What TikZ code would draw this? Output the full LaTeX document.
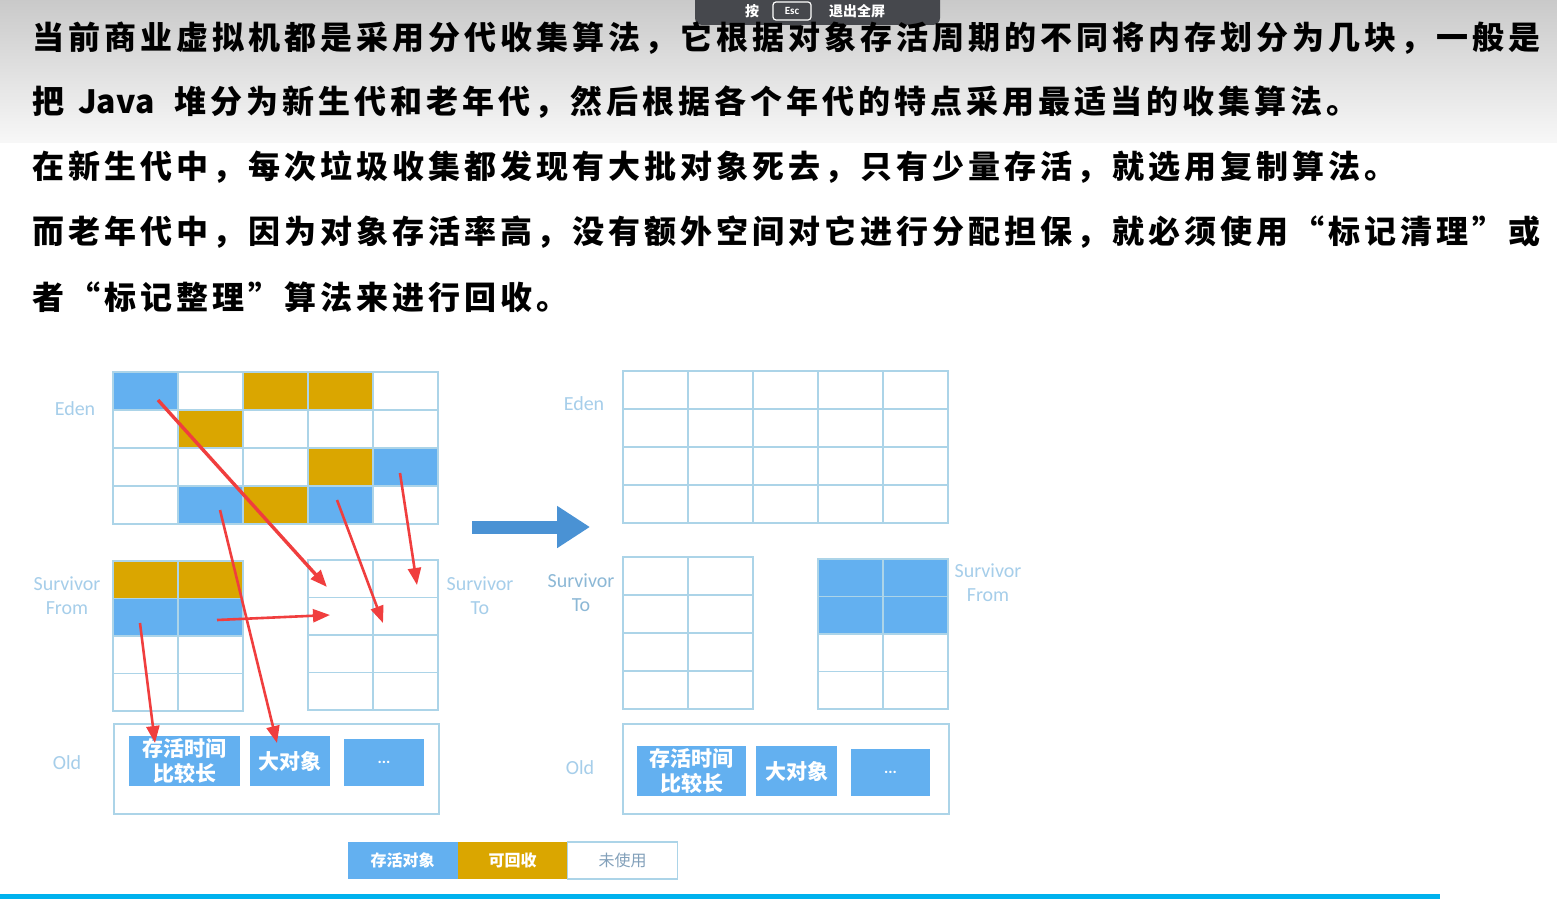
\documentclass[tikz,border=0pt]{standalone}
\usepackage{fontspec}
\setmainfont{Carlito}
\newfontfamily\cjk{Noto Sans CJK SC}[LetterSpace=12.5]
\newfontfamily\cjkplain{Noto Sans CJK SC}
\usepackage{tikz}
\usetikzlibrary{arrows.meta,calc}
\definecolor{gclive}{RGB}{99,176,240}
\definecolor{gcdead}{RGB}{218,166,0}
\definecolor{gcgrid}{RGB}{172,212,232}
\definecolor{gclabel}{RGB}{166,206,234}
\definecolor{gclabeldark}{RGB}{140,184,214}
\definecolor{gcmute}{RGB}{130,160,186}
\definecolor{gcshift}{RGB}{74,146,212}
\definecolor{gcred}{RGB}{240,62,62}
\definecolor{gccyan}{RGB}{0,178,238}
\definecolor{gcbar}{RGB}{70,72,77}
\colorlet{gcfree}{white}
\tikzset{
  para/.style={anchor=west, inner sep=0pt, font=\cjk\bfseries\fontsize{32}{32}\selectfont},
  cell/.style={draw=gcgrid, line width=1.2pt, minimum width=65pt, minimum height=38pt, inner sep=0pt},
  oldbox/.style={draw=gcgrid, line width=1.4pt, minimum width=325pt, minimum height=90pt, inner sep=0pt},
  objbox/.style={fill=gclive, text=white, align=center, inner sep=0pt, font=\cjkplain\bfseries\fontsize{21}{25}\selectfont},
  region/.style={text=gclabel, align=center, inner sep=0pt, font=\fontsize{20}{24}\selectfont},
  legend/.style={minimum width=110pt, minimum height=37pt, inner sep=0pt, text=white, font=\cjkplain\bfseries\fontsize{16}{16}\selectfont},
  hint/.style={text=white, inner sep=0pt, font=\cjkplain\bfseries\fontsize{14}{14}\selectfont},
  gcarrow/.style={-{Triangle[length=17pt,width=13pt]}, gcred, line width=2.6pt},
  gcshiftarrow/.style={-{Triangle[length=33pt,width=40pt]}, gcshift, line width=13pt}
}

\begin{document}
\begin{tikzpicture}[x=1pt,y=-1pt]
  \useasboundingbox (0,0) rectangle (1557,899);
  \fill[white] (0,0) rectangle (1557,899);
  \shade[top color=black!21, bottom color=black!3] (0,0) rectangle (1557,142);
  \fill[gccyan] (0,894) rectangle (1440,899);

  % fullscreen hint bar
  \fill[gcbar, rounded corners=7pt] (695,-12) rectangle (940,25);
  \node[hint] (hintPress) at (752,11) {按};
  \node[hint, draw=white, line width=1.2pt, rounded corners=3pt, minimum width=38pt, minimum height=18pt, font=\bfseries\fontsize{11}{11}\selectfont] (hintKey) at (792,11) {Esc};
  \node[hint] (hintExit) at (857,11) {退出全屏};

  \node[para] (line1) at (32,38) {当前商业虚拟机都是采用分代收集算法，它根据对象存活周期的不同将内存划分为几块，一般是};
  \node[para] (line2) at (32,102) {把\hspace{14pt}{\cjkplain Java}\hspace{20pt}堆分为新生代和老年代，然后根据各个年代的特点采用最适当的收集算法。};
  \node[para] (line3) at (32,167) {在新生代中，每次垃圾收集都发现有大批对象死去，只有少量存活，就选用复制算法。};
  \node[para] (line4) at (32,232) {而老年代中，因为对象存活率高，没有额外空间对它进行分配担保，就必须使用“标记清理”或};
  \node[para] (line5) at (32,297) {者“标记整理”算法来进行回收。};

  % before the collection
  \foreach \r/\row in {0/{gclive,gcfree,gcdead,gcdead,gcfree},1/{gcfree,gcdead,gcfree,gcfree,gcfree},2/{gcfree,gcfree,gcfree,gcdead,gclive},3/{gcfree,gclive,gcdead,gclive,gcfree}}
    \foreach \col [count=\c from 0] in \row
      \node[cell, fill=\col] (edenL-\r-\c) at (145.5+65*\c, 391+38*\r) {};
  \foreach \r/\row in {0/{gcdead,gcdead},1/{gclive,gclive},2/{gcfree,gcfree},3/{gcfree,gcfree}}
    \foreach \col [count=\c from 0] in \row
      \node[cell, fill=\col, minimum height=37.5pt] (fromL-\r-\c) at (145.5+65*\c, 579.75+37.5*\r) {};
  \foreach \r in {0,...,3}
    \foreach \c in {0,1}
      \node[cell, minimum height=37.5pt] (toL-\r-\c) at (340.5+65*\c, 578.75+37.5*\r) {};
  \node[oldbox] (oldL) at (276.5,769) {};
  \node[objbox, minimum width=111pt, minimum height=50pt] (longL) at (184.5,761) {存活时间\\比较长};
  \node[objbox, minimum width=80pt, minimum height=50pt] (bigL) at (290,761) {大对象};
  \node[objbox, minimum width=80pt, minimum height=47pt, font=\bfseries\fontsize{16}{16}\selectfont] (moreL) at (384,762.5) {...};

  \node[region] (edenLabelL) at (75,409) {Eden};
  \node[region] (fromLabelL) at (67,596) {Survivor\\From};
  \node[region] (toLabelL) at (480,596) {Survivor\\To};
  \node[region] (oldLabelL) at (67,763) {Old};

  % after the collection
  \coordinate (shiftA) at (472,527);
  \coordinate (shiftB) at (590,527);
  \draw[gcshiftarrow] (shiftA) -- (shiftB);

  \foreach \r in {0,...,3}
    \foreach \c in {0,...,4}
      \node[cell] (edenR-\r-\c) at (655.5+65*\c, 390+38*\r) {};
  \foreach \r in {0,...,3}
    \foreach \c in {0,1}
      \node[cell] (toR-\r-\c) at (655.5+65*\c, 576+38*\r) {};
  \foreach \r/\row in {0/{gclive,gclive},1/{gclive,gclive},2/{gcfree,gcfree},3/{gcfree,gcfree}}
    \foreach \col [count=\c from 0] in \row
      \node[cell, fill=\col, minimum height=37.5pt] (fromR-\r-\c) at (850.5+65*\c, 577.75+37.5*\r) {};
  \node[oldbox, minimum width=326pt] (oldR) at (786,769) {};
  \node[objbox, minimum width=109pt, minimum height=50pt] (longR) at (691.5,771) {存活时间\\比较长};
  \node[objbox, minimum width=81pt, minimum height=50pt] (bigR) at (796.5,771) {大对象};
  \node[objbox, minimum width=79pt, minimum height=47pt, font=\bfseries\fontsize{16}{16}\selectfont] (moreR) at (890.5,772.5) {...};

  \node[region] (edenLabelR) at (584,404) {Eden};
  \node[region, text=gclabeldark] (toLabelR) at (581,593) {Survivor\\To};
  \node[region] (fromLabelR) at (988,583) {Survivor\\From};
  \node[region] (oldLabelR) at (580,768) {Old};

  \node[legend, fill=gclive] (keyLive) at (402.5,860.5) {存活对象};
  \node[legend, fill=gcdead] (keyDead) at (512.5,860.5) {可回收};
  \node[legend, draw=gcgrid, line width=1.2pt, text=gcmute, font=\cjkplain\fontsize{16}{16}\selectfont] (keyFree) at (622.5,860.5) {未使用};

  % copying arrows
  \draw[gcarrow, line width=3.4pt] ($(edenL-0-0)+(12.5,9)$) -- ($(toL-0-0)+(-13.5,8.25)$);
  \draw[gcarrow] ($(edenL-3-3)+(-3.5,-5)$) -- ($(toL-1-1)+(-22.5,6.75)$);
  \draw[gcarrow] ($(edenL-2-4)+(-5.5,6)$) -- ($(toL-0-1)+(11.5,6.25)$);
  \draw[gcarrow] ($(edenL-3-1)+(9.5,5)$) -- ($(bigL)+(-13,-18)$);
  \draw[gcarrow] ($(fromL-1-1)+(6.5,2.75)$) -- ($(toL-1-0)+(-10.5,-1.25)$);
  \draw[gcarrow] ($(fromL-1-0)+(-5.5,5.75)$) -- ($(longL)+(-29.5,-18)$);
\end{tikzpicture}
\end{document}
